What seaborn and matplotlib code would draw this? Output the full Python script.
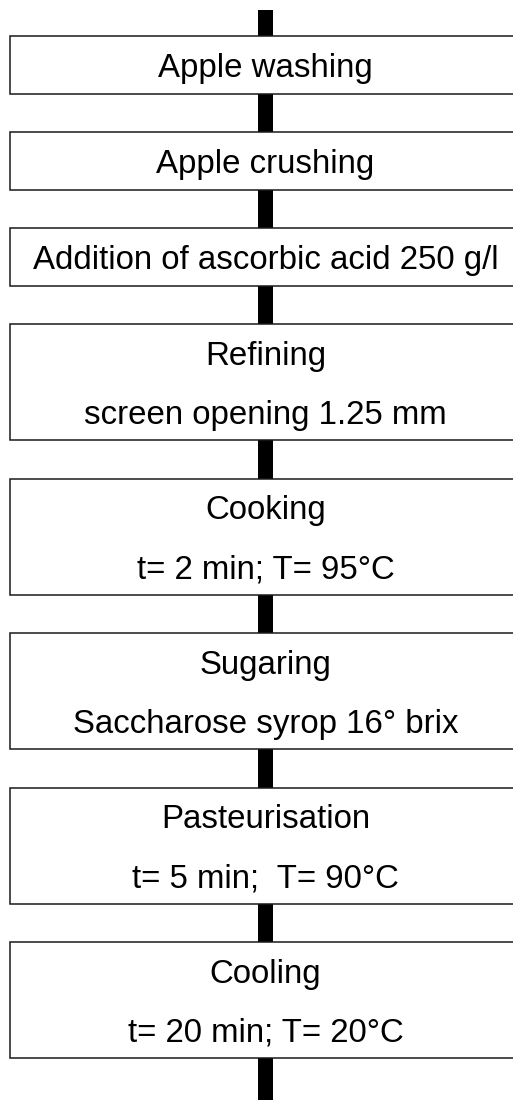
import matplotlib
matplotlib.use('Agg')
import matplotlib.pyplot as plt
import matplotlib.patches as mpatches
import seaborn as sns

# process steps (top to bottom) and the detail line under each, if any
steps = ['Apple washing', 'Apple crushing', 'Addition of ascorbic acid 250 g/l',
         'Refining', 'Cooking', 'Sugaring', 'Pasteurisation', 'Cooling']
details = ['', '', '', 'screen opening 1.25 mm', 't= 2 min; T= 95°C',
           'Saccharose syrop 16° brix', 't= 5 min;  T= 90°C', 't= 20 min; T= 20°C']

sns.set_theme(style='white')
plt.rcParams['font.family'] = ['Liberation Sans', 'DejaVu Sans']

W, H = 513, 1100
fig = plt.figure(figsize=(W / 100, H / 100), dpi=100)
ax = fig.add_axes([0, 0, 1, 1])
ax.set_xlim(0, W)
ax.set_ylim(H, 0)
ax.axis('off')

# layout in pixels
x_center = 265.5
box_left = 10
box_w = 2 * (x_center - box_left)
line_h = 58.5
gap = 38.5
top = 36

# the thick connector running behind all the boxes
ax.add_patch(mpatches.Rectangle((x_center - 7.5, 10), 15, H - 10,
                                facecolor='black', edgecolor='none', zorder=1))

for step, detail in zip(steps, details):
    lines = [step] + ([detail] if detail else [])
    h = line_h * len(lines) - 1
    ax.add_patch(mpatches.Rectangle((box_left, top), box_w, h, facecolor='white',
                                    edgecolor='#1a1a1a', linewidth=1.1, zorder=2))
    for i, txt in enumerate(lines):
        ax.text(x_center, top + 41 + 59 * i, txt, ha='center', va='baseline',
                fontsize=23.8, color='black', zorder=3)
    top += h + gap

fig.savefig('out.png', dpi=100)
